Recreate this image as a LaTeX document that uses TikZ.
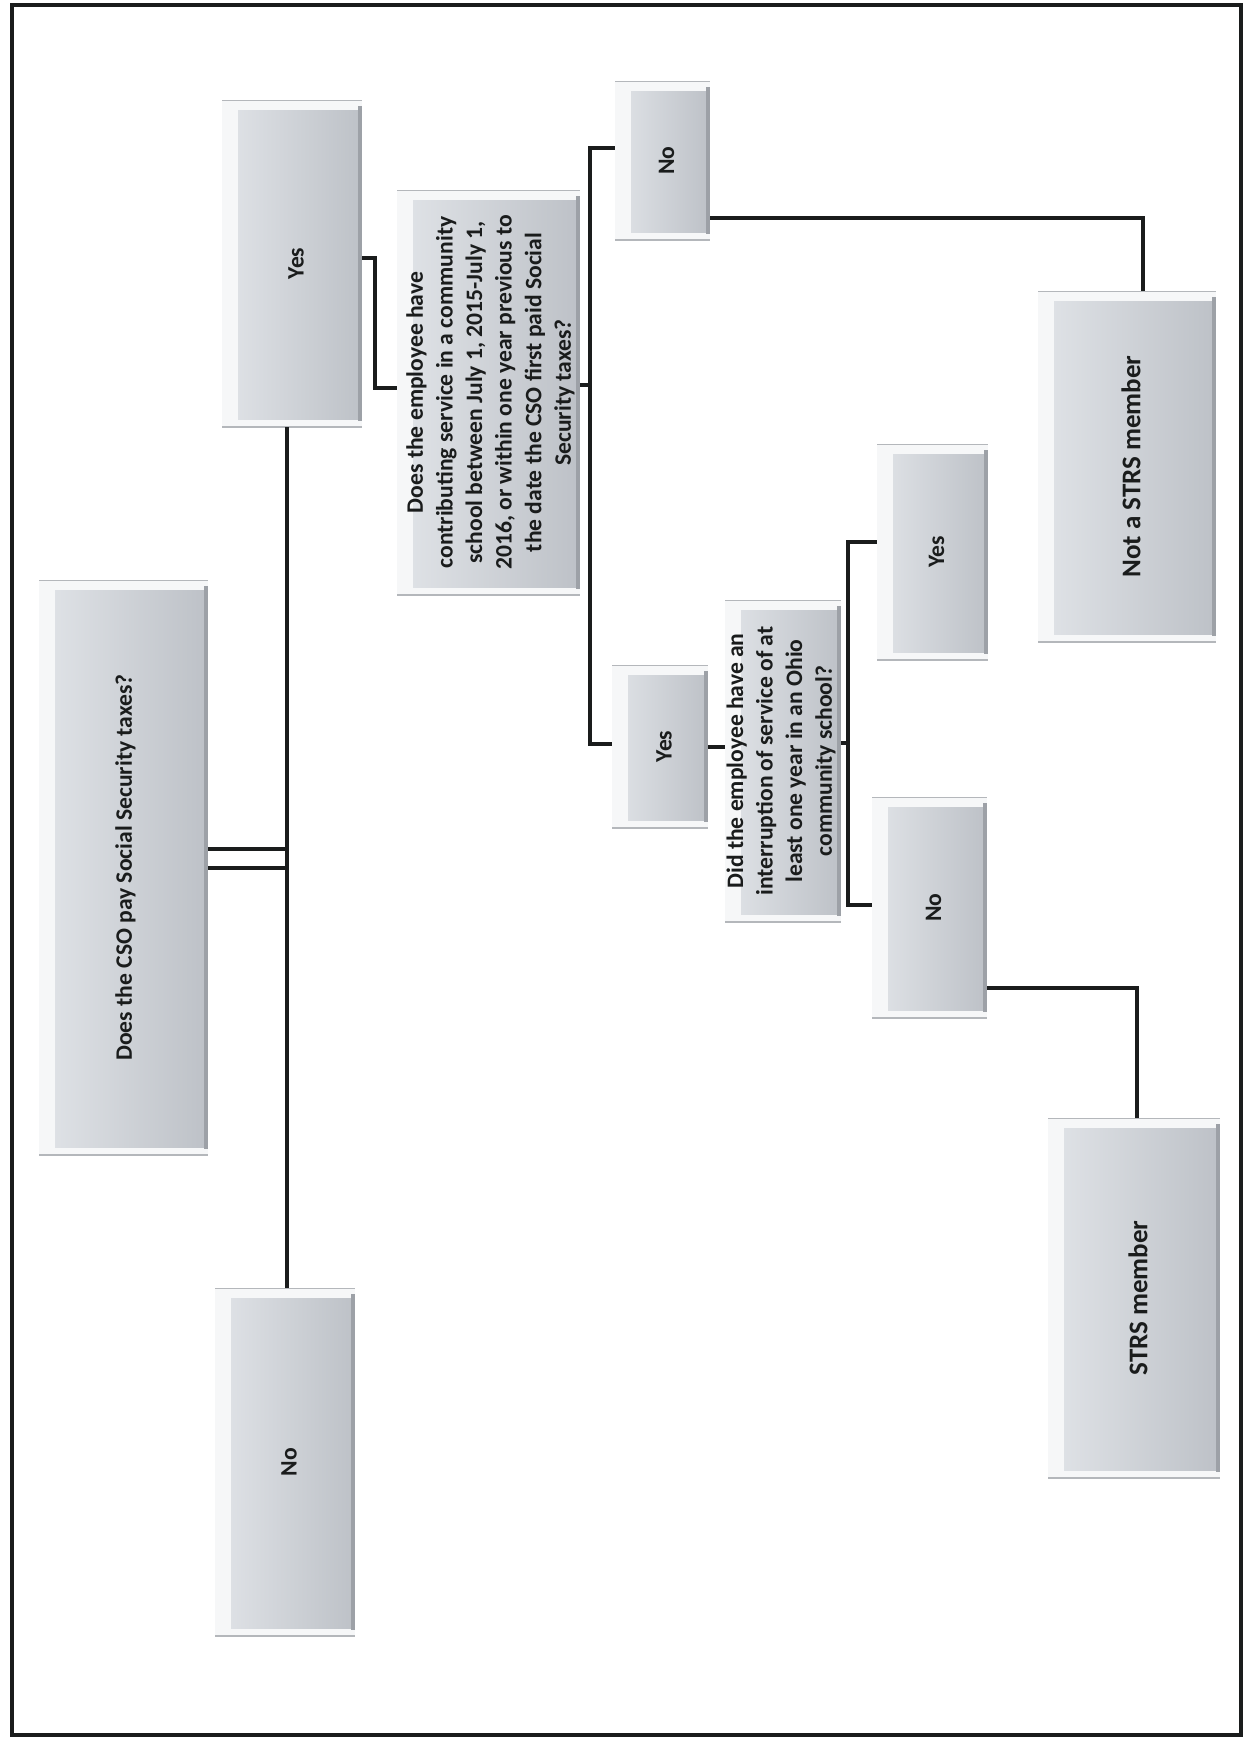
\documentclass[tikz,border=0pt]{standalone}
\usepackage{fontspec}
\setmainfont{Carlito}
\definecolor{bevel}{HTML}{F6F7F8}
\definecolor{bodyL}{HTML}{E1E4E8}
\definecolor{bodyR}{HTML}{BDC1C7}
\definecolor{shadowR}{HTML}{9DA1A7}
\definecolor{edgeline}{HTML}{B4B7BB}
\definecolor{ink}{HTML}{1A1C1C}
\tikzset{
  box/.style={rectangle, inner sep=0pt, fill=bevel,
    path picture={
      \shade[left color=bodyL, right color=bodyR]
        ([xshift=8pt,yshift=-5pt]path picture bounding box.north west) rectangle
        ([xshift=-1.5pt,yshift=4pt]path picture bounding box.south east);
      \fill[shadowR]
        ([xshift=-2pt,yshift=-3pt]path picture bounding box.north east) rectangle
        ([yshift=3pt]path picture bounding box.south east);
      \draw[edgeline, line width=0.8pt]
        (path picture bounding box.north west) -- (path picture bounding box.north east)
        (path picture bounding box.south west) -- (path picture bounding box.south east);
    }},
  lbl/.style={rotate=90, align=center, inner sep=0pt, text=ink,
    font=\fontsize{11.8}{14.8}\selectfont\bfseries},
  biglbl/.style={lbl, font=\fontsize{13.5}{16}\selectfont\bfseries},
  conn/.style={draw=ink, line width=1.6pt},
  frame/.style={draw=ink, line width=2pt}
}
\newcommand\mkbox[5]{%
  \node[box, minimum width={(#4-#2)*0.5pt}, minimum height={(#5-#3)*0.5pt}]
    (#1) at ({(#2+#4)/2},{(#3+#5)/2}) {};}
\begin{document}
\begin{tikzpicture}[x=0.5pt, y=-0.5pt]
\useasboundingbox (0,0) rectangle (1246,1741);
\fill[white] (0,0) rectangle (1246,1741);
\draw[frame] (12,5) rectangle (1241,1735);

% boxes
\mkbox{cso}{39}{580}{208}{1155}
\mkbox{yes1}{222}{100}{362}{427}
\mkbox{no1}{215}{1288}{355}{1636}
\mkbox{q2}{397}{190}{580}{595}
\mkbox{noA}{615}{81}{710}{240}
\mkbox{yesA}{612}{665}{708}{828}
\mkbox{q3}{725}{600}{841}{922}
\mkbox{yesB}{877}{444}{988}{660}
\mkbox{noB}{872}{797}{987}{1018}
\mkbox{notstrs}{1038}{291}{1216}{642}
\mkbox{strs}{1048}{1118}{1220}{1478}

% labels
\node[lbl] (cso-t) at ([xshift=1pt]cso.center) {Does the CSO pay Social Security taxes?};
\node[lbl] (yes1-t) at ([xshift=2pt]yes1.center) {Yes};
\node[lbl] (no1-t) at ([xshift=2pt]no1.center) {No};
\node[lbl] (q2-t) at ([xshift=1pt]q2.center) {Does the employee have\\contributing service in a community\\school between July 1, 2015-July 1,\\2016, or within one year previous to\\the date the CSO first paid Social\\Security taxes?};
\node[lbl] (noA-t) at ([xshift=2pt]noA.center) {No};
\node[lbl] (yesA-t) at ([xshift=2pt]yesA.center) {Yes};
\node[lbl] (q3-t) at ([xshift=-1pt]q3.center) {Did the employee have an\\interruption of service of at\\least one year in an Ohio\\community school?};
\node[lbl] (yesB-t) at ([xshift=2pt]yesB.center) {Yes};
\node[lbl] (noB-t) at ([xshift=2pt]noB.center) {No};
\node[biglbl] (notstrs-t) at ([xshift=2pt]notstrs.center) {Not a STRS member};
\node[biglbl] (strs-t) at ([xshift=2pt]strs.center) {STRS member};

% junction coordinates
\coordinate (j1a) at (287,849);
\coordinate (j1b) at (287,868);
\coordinate (j2) at (375,258);
\coordinate (j3) at (590,385);
\coordinate (j4) at (848,743);

% connectors
\draw[conn] (cso.east |- j1a) -- (j1a);
\draw[conn] (cso.east |- j1b) -- (j1b);
\draw[conn] (yes1.south -| j1a) -- (no1.north -| j1a);
\draw[conn] (yes1.east |- j2) -- (j2) |- (q2.west |- 0,388);
\draw[conn] (q2.east |- j3) -- (j3);
\draw[conn] (noA.west |- 0,148) -| (j3) |- (yesA.west |- 0,744);
\draw[conn] (yesA.east |- 0,747) -- (q3.west |- 0,747);
\draw[conn] (q3.east |- j4) -- (j4);
\draw[conn] (yesB.west |- 0,542) -| (j4) |- (noB.west |- 0,905);
\draw[conn] (noA.east |- 0,218) -| (notstrs.north -| 1143,0);
\draw[conn] (noB.east |- 0,988) -| (strs.north -| 1137,0);
\end{tikzpicture}
\end{document}
